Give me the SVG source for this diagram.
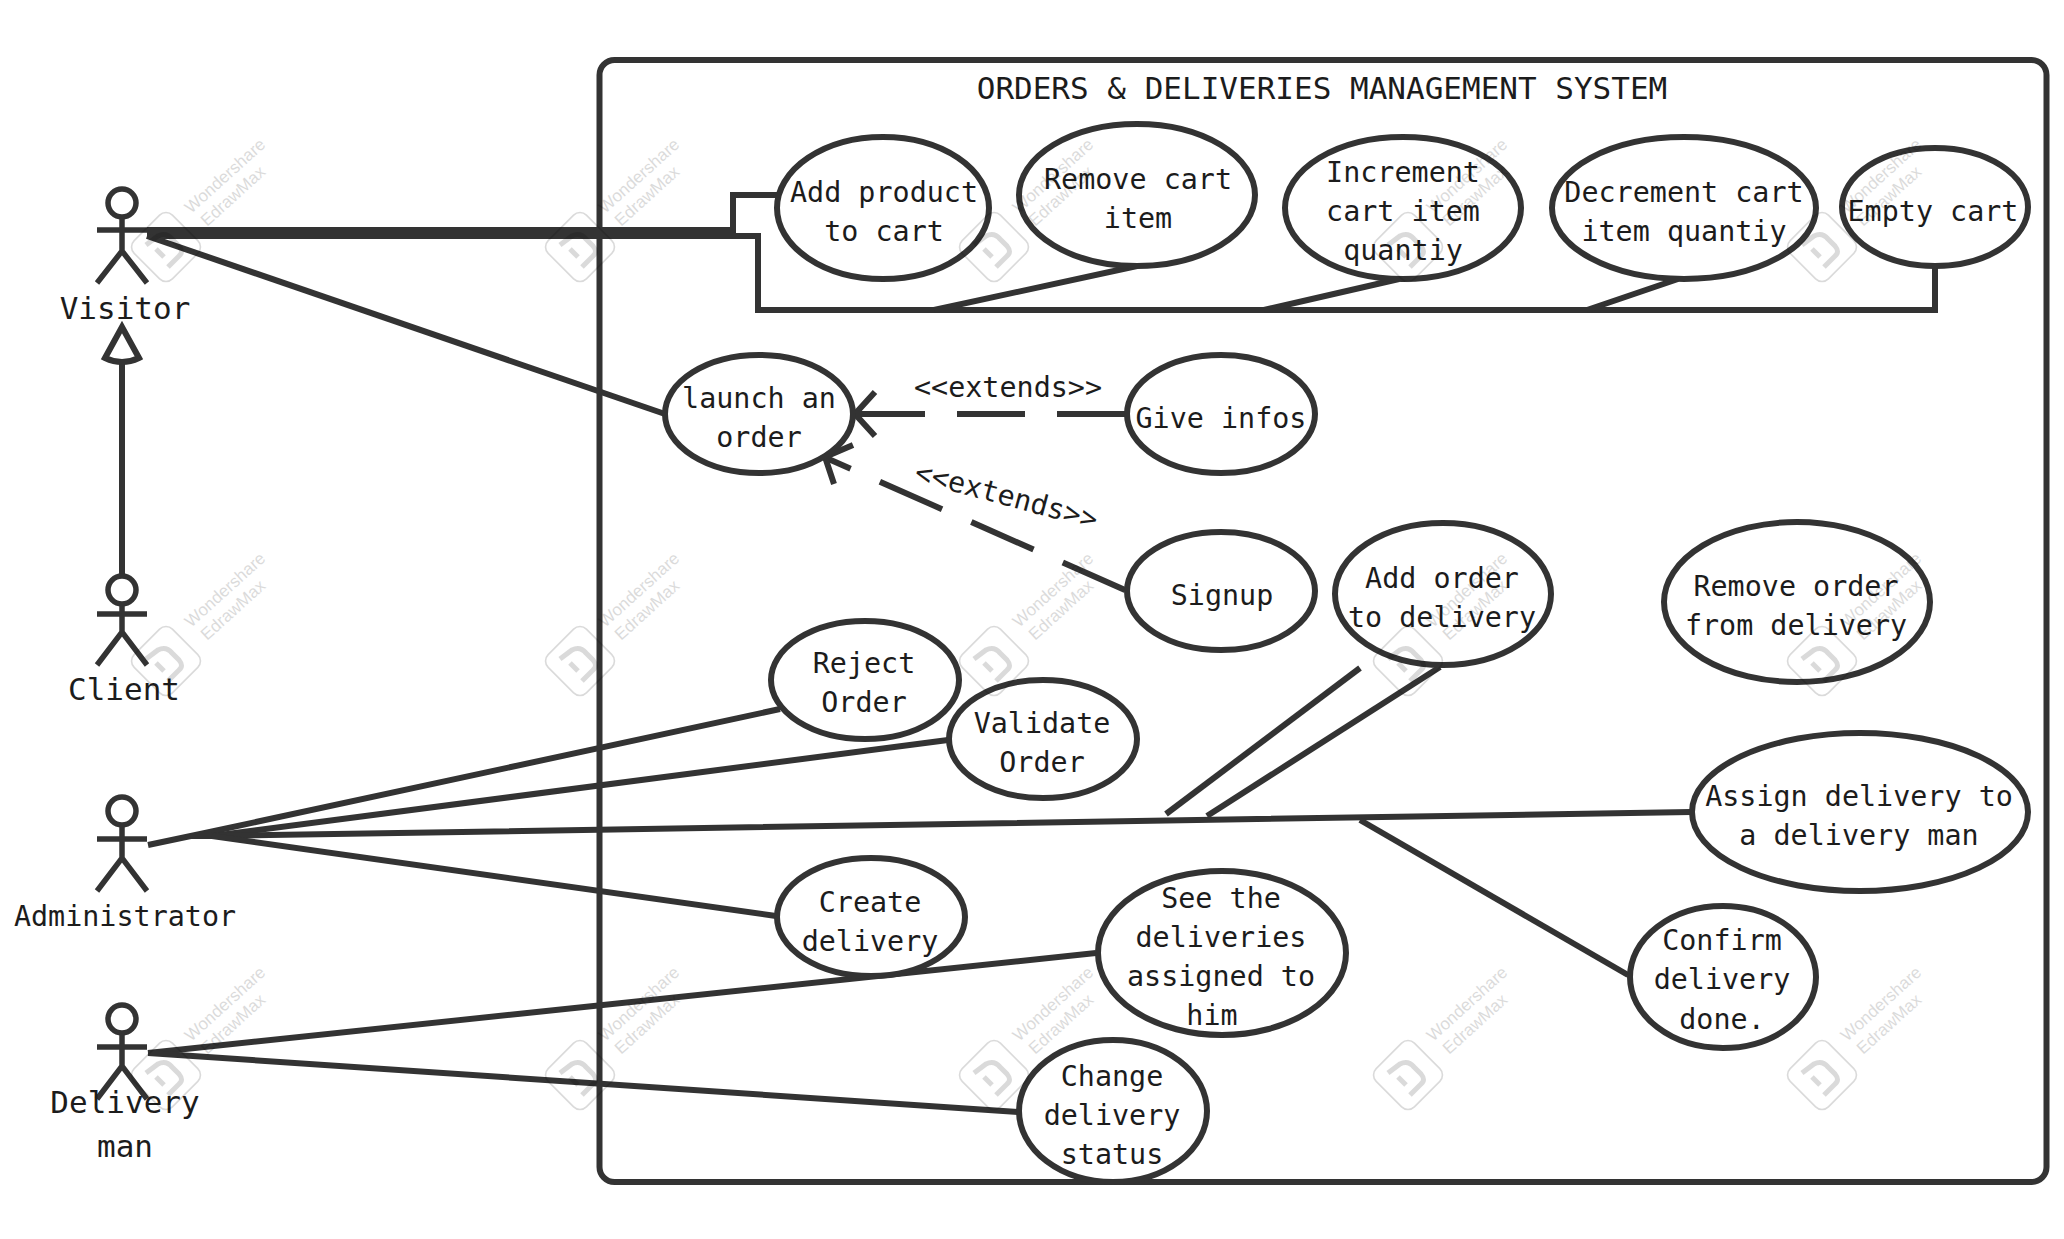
<svg xmlns="http://www.w3.org/2000/svg" width="2064" height="1239" viewBox="0 0 2064 1239">
<style>
.c{fill:none;stroke:#333;stroke-width:6;stroke-linejoin:miter}
.d{stroke-dasharray:68 32}
.u{fill:#fff;stroke:#333;stroke-width:6}
.a{fill:none;stroke:#333;stroke-width:5.5}
text{font-family:"DejaVu Sans Mono","Liberation Mono",monospace;font-size:28.4px;fill:#1c1c1c;text-anchor:middle}
.t{font-size:31px}
.l{font-size:31px}
.w{font-family:"Liberation Sans",Arial,sans-serif;font-size:17px;fill:#000;text-anchor:start}
</style>
<defs>
<g id="wm" opacity="0.14">
<rect x="-27" y="-27" width="54" height="54" rx="9" fill="none" stroke="#000" stroke-width="1.6" transform="rotate(45)"/>
<path d="M-20 -2L-8 -11Q0 -15 6 -8L13 -1Q18 5 13 9L2 20M-10 2L-2 10" fill="none" stroke="#000" stroke-width="5"/>
<text class="w" transform="translate(25 -33) rotate(-42)">Wondershare</text>
<text class="w" transform="translate(41 -20) rotate(-42)">EdrawMax</text>
</g>
</defs>
<rect width="2064" height="1239" fill="#fff"/>
<g id="system"><rect x="599.5" y="60" width="1447" height="1122" rx="15" fill="none" stroke="#333" stroke-width="6"/>
<text class="t" x="1322" y="99">ORDERS &amp; DELIVERIES MANAGEMENT SYSTEM</text></g>
<g id="connectors">
<path class="c" d="M147 230H733V195H777"/>
<path class="c" d="M147 236H758V310H1935V268"/>
<path class="c" d="M1137 266L934 310M1399 279L1264 310M1678 279L1587 310"/>
<path class="c" d="M147 236L665 414"/>
<path class="c" d="M122 575V360"/>
<path class="c" d="M122 327L105 358Q122 366 139 358Z"/>
<path class="c d" d="M1125 414H856"/>
<path class="c" d="M875 392L855 414L875 436"/>
<path class="c d" d="M1125 590L824 457"/>
<path class="c" d="M853 445L825 457L834 484"/>
<path class="c" d="M148 845L205 833L780 709"/>
<path class="c" d="M212 836L948 740"/>
<path class="c" d="M190 836H212L1691 812"/>
<path class="c" d="M212 836L776 916"/>
<path class="c" d="M1440 667L1207 816"/>
<path class="c" d="M1360 668L1166 814"/>
<path class="c" d="M1360 820L1628 975"/>
<path class="c" d="M148 1053L1096 953"/>
<path class="c" d="M148 1053L1018 1112"/>
</g>
<g id="visitor"><circle class="a" cx="122" cy="203" r="14"/><path class="a" d="M97 230H147M122 217V251M97 283L122 251L147 283"/><text class="l" x="125" y="319">Visitor</text></g>
<g id="client"><circle class="a" cx="122" cy="590" r="14"/><path class="a" d="M97 614H147M122 604V632M97 665L122 632L147 665"/><text class="l" x="124" y="700">Client</text></g>
<g id="administrator"><circle class="a" cx="122" cy="811" r="14"/><path class="a" d="M97 839H147M122 825V858M97 891L122 858L147 891"/><text x="125" y="926">Administrator</text></g>
<g id="delivery-man"><circle class="a" cx="122" cy="1019" r="14"/><path class="a" d="M97 1047H147M122 1033V1066M97 1099L122 1066L147 1099"/><text class="l" x="125" y="1113">Delivery</text><text class="l" x="125" y="1157">man</text></g>
<g id="add-product"><ellipse class="u" cx="883" cy="208" rx="106" ry="71"/><text x="884" y="202">Add product</text><text x="884" y="241">to cart</text></g>
<g id="remove-cart"><ellipse class="u" cx="1137" cy="195" rx="118" ry="71"/><text x="1138" y="189">Remove cart</text><text x="1138" y="228">item</text></g>
<g id="increment"><ellipse class="u" cx="1403" cy="208" rx="118" ry="71"/><text x="1403" y="182">Increment</text><text x="1403" y="221">cart item</text><text x="1403" y="260">quantiy</text></g>
<g id="decrement"><ellipse class="u" cx="1684" cy="208" rx="132" ry="71"/><text x="1684" y="202">Decrement cart</text><text x="1684" y="241">item quantiy</text></g>
<g id="empty-cart"><ellipse class="u" cx="1935" cy="207" rx="93" ry="59"/><text x="1933" y="221">Empty cart</text></g>
<g id="launch"><ellipse class="u" cx="759" cy="414" rx="94" ry="59"/><text x="759" y="408">launch an</text><text x="759" y="447">order</text></g>
<g id="give-infos"><ellipse class="u" cx="1221" cy="414" rx="94" ry="59"/><text x="1221" y="428">Give infos</text></g>
<g id="signup"><ellipse class="u" cx="1221" cy="591" rx="94" ry="59"/><text x="1222" y="605">Signup</text></g>
<g id="add-order"><ellipse class="u" cx="1443" cy="594" rx="108" ry="71"/><text x="1442" y="588">Add order</text><text x="1442" y="627">to delivery</text></g>
<g id="remove-order"><ellipse class="u" cx="1797" cy="602" rx="133" ry="80"/><text x="1796" y="596">Remove order</text><text x="1796" y="635">from delivery</text></g>
<g id="assign"><ellipse class="u" cx="1860" cy="812" rx="168" ry="79"/><text x="1859" y="806">Assign delivery to</text><text x="1859" y="845">a delivery man</text></g>
<g id="confirm"><ellipse class="u" cx="1723" cy="977" rx="93" ry="71"/><text x="1722" y="950">Confirm</text><text x="1722" y="989">delivery</text><text x="1722" y="1029">done.</text></g>
<g id="see"><ellipse class="u" cx="1222" cy="953" rx="124" ry="82"/><text x="1221" y="908">See the</text><text x="1221" y="947">deliveries</text><text x="1221" y="986">assigned to</text><text x="1212" y="1025">him</text></g>
<g id="reject"><ellipse class="u" cx="865" cy="680" rx="94" ry="59"/><text x="864" y="673">Reject</text><text x="864" y="712">Order</text></g>
<g id="validate"><ellipse class="u" cx="1043" cy="739" rx="94" ry="59"/><text x="1042" y="733">Validate</text><text x="1042" y="772">Order</text></g>
<g id="create"><ellipse class="u" cx="871" cy="917" rx="94" ry="59"/><text x="870" y="912">Create</text><text x="870" y="951">delivery</text></g>
<g id="change"><ellipse class="u" cx="1113" cy="1111" rx="94" ry="71"/><text x="1112" y="1086">Change</text><text x="1112" y="1125">delivery</text><text x="1112" y="1164">status</text></g>
<g id="labels"><text x="1008" y="397">&lt;&lt;extends&gt;&gt;</text><text transform="translate(1004 505) rotate(15)">&lt;&lt;extends&gt;&gt;</text></g>
<g id="watermarks">
<use href="#wm" x="166" y="247"/><use href="#wm" x="580" y="247"/><use href="#wm" x="994" y="247"/><use href="#wm" x="1408" y="247"/><use href="#wm" x="1822" y="247"/>
<use href="#wm" x="166" y="661"/><use href="#wm" x="580" y="661"/><use href="#wm" x="994" y="661"/><use href="#wm" x="1408" y="661"/><use href="#wm" x="1822" y="661"/>
<use href="#wm" x="166" y="1075"/><use href="#wm" x="580" y="1075"/><use href="#wm" x="994" y="1075"/><use href="#wm" x="1408" y="1075"/><use href="#wm" x="1822" y="1075"/>
</g>
</svg>
